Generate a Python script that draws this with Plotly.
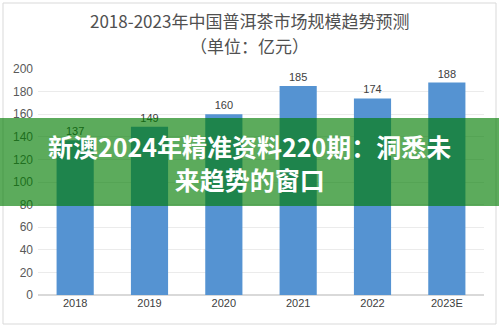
import plotly.graph_objects as go

years = ["2018", "2019", "2020", "2021", "2022", "2023E"]
values = [137, 149, 160, 185, 174, 188]
title_line1 = "2018-2023年中国普洱茶市场规模趋势预测"
title_line2 = "（单位：亿元）"
banner_text = "新澳2024年精准资料220期：洞悉未<br>来趋势的窗口"

W, H = 499, 327
L, R, T, B = 38, 15, 69, 32
pw, ph = W - L - R, H - T - B

def px_x(p):
    return (p - L) / pw

def px_y(p):
    return (H - B - p) / ph

fig = go.Figure()
fig.add_trace(go.Bar(
    x=years, y=values,
    marker=dict(color="#5593d2", line=dict(width=0)),
    text=[str(v) for v in values], textposition="outside",
    textfont=dict(family="Liberation Sans, Arial", size=11, color="#404040"),
    cliponaxis=False, width=0.5,
))

fig.update_layout(
    width=W, height=H,
    margin=dict(l=L, r=R, t=T, b=B),
    paper_bgcolor="white", plot_bgcolor="white",
    showlegend=False,
    xaxis=dict(showgrid=False, showline=False, ticks="",
               tickfont=dict(family="Liberation Sans, Arial", size=11, color="#404040")),
    yaxis=dict(range=[0, 200], dtick=20, showgrid=True, gridcolor="#ebebeb", gridwidth=1,
               zeroline=True, zerolinecolor="#d9d9d9", showline=False, ticks="",
               tickfont=dict(family="Liberation Sans, Arial", size=12, color="#595959"),
               ticklabelstandoff=4),
    font=dict(family="Noto Sans CJK SC"),
)

fig.add_annotation(text=title_line1, xref="paper", yref="paper",
                   x=px_x(W / 2), y=px_y(20), showarrow=False,
                   xanchor="center", yanchor="middle",
                   font=dict(family="Noto Sans CJK SC", size=17, color="#505050"))
fig.add_annotation(text=title_line2, xref="paper", yref="paper",
                   x=px_x(W / 2), y=px_y(45), showarrow=False,
                   xanchor="center", yanchor="middle",
                   font=dict(family="Noto Sans CJK SC", size=17, color="#505050"))

# outer frame
fig.add_shape(type="rect", xref="paper", yref="paper",
              x0=px_x(3), x1=px_x(496), y0=px_y(324), y1=px_y(3),
              line=dict(color="#d9d9d9", width=1), fillcolor="rgba(0,0,0,0)", layer="above")

# green banner overlay
fig.add_shape(type="rect", xref="paper", yref="paper",
              x0=px_x(0), x1=px_x(W), y0=px_y(206), y1=px_y(118),
              line=dict(width=0), fillcolor="rgba(0,124,0,0.64)", layer="above")
fig.add_annotation(text="<b>" + banner_text + "</b>", xref="paper", yref="paper",
                   x=px_x(W / 2), y=px_y(162), showarrow=False,
                   xanchor="center", yanchor="middle", align="center",
                   font=dict(family="Noto Sans CJK SC", size=25, color="white"))

fig.write_html("out.html")
